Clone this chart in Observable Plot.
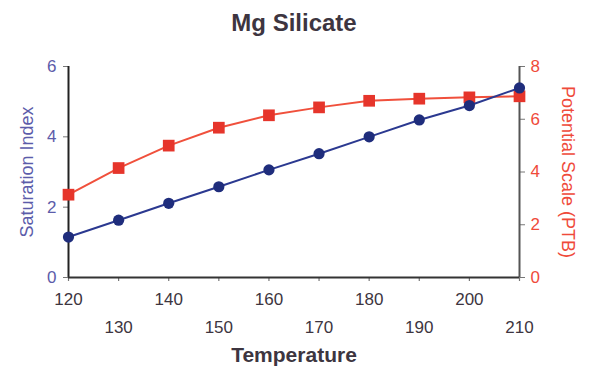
<!DOCTYPE html>
<html>
<head>
<meta charset="utf-8">
<script src="https://cdn.jsdelivr.net/npm/d3@7"></script>
<script src="https://cdn.jsdelivr.net/npm/@observablehq/plot@0.6"></script>
<style>
  html, body { margin: 0; padding: 0; background: #fff; }
  svg { display: block; }
</style>
</head>
<body>
<div id="chart"></div>
<script>
const temperature = [120, 130, 140, 150, 160, 170, 180, 190, 200, 210];
const saturationIndex = [1.15, 1.63, 2.11, 2.58, 3.06, 3.52, 4.0, 4.48, 4.89, 5.39];
const potentialScale = [3.14, 4.15, 5.0, 5.68, 6.15, 6.45, 6.7, 6.78, 6.83, 6.87];
const leftTicks = [0, 2, 4, 6];
const rightTicks = [0, 2, 4, 6, 8];
const xTicksRow1 = [120, 140, 160, 180, 200];
const xTicksRow2 = [130, 150, 170, 190, 210];
const leftMax = 6, rightMax = 8;

const toLeft = v => v * leftMax / rightMax;
const data = temperature.map((t, i) => ({t, si: saturationIndex[i], ps: potentialScale[i]}));

const dark = "#3d3540";
const blueLbl = "#5c5caa";
const redLbl = "#ef4a3a";
const font = "'Liberation Sans', Arial, sans-serif";

const chart = Plot.plot({
  width: 589,
  height: 377,
  marginLeft: 68,
  marginRight: 70,
  marginTop: 66,
  marginBottom: 100,
  style: {fontFamily: font, background: "#fff"},
  x: {domain: [120, 210], axis: null},
  y: {domain: [0, leftMax], axis: null},
  marks: [
    // tick marks
    Plot.axisX({ticks: temperature, tickSize: 4, tickFormat: () => "", label: null, stroke: "#777", strokeWidth: 1.2}),
    Plot.axisY({ticks: leftTicks, anchor: "left", tickSize: 5, tickFormat: () => "", label: null, stroke: "#777"}),
    Plot.axisY({ticks: rightTicks.map(toLeft), anchor: "right", tickSize: 5, tickFormat: () => "", label: null, stroke: "#777"}),
    // frame lines
    Plot.ruleX([120], {stroke: "#222", strokeWidth: 2}),
    Plot.ruleX([210], {stroke: "#555", strokeWidth: 2}),
    Plot.ruleY([0], {stroke: "#333", strokeWidth: 2}),
    // series
    Plot.line(data, {x: "t", y: d => toLeft(d.ps), stroke: "#f0503c", strokeWidth: 2}),
    Plot.dot(data, {x: "t", y: d => toLeft(d.ps), symbol: "square", r: 6.6, fill: "#e6352b"}),
    Plot.line(data, {x: "t", y: "si", stroke: "#2b3990", strokeWidth: 2}),
    Plot.dot(data, {x: "t", y: "si", r: 5.6, fill: "#1f2d7c"}),
    // x tick labels (staggered)
    Plot.text(xTicksRow1, {x: d => d, text: d => String(d), frameAnchor: "bottom", dy: 22, lineAnchor: "middle", fontSize: 17, fill: dark}),
    Plot.text(xTicksRow2, {x: d => d, text: d => String(d), frameAnchor: "bottom", dy: 50, lineAnchor: "middle", fontSize: 17, fill: dark}),
    // left tick labels
    Plot.text(leftTicks, {y: d => d, text: d => String(d), frameAnchor: "left", dx: -12, textAnchor: "end", lineAnchor: "middle", fontSize: 17, fill: blueLbl}),
    // right tick labels
    Plot.text(rightTicks, {y: d => toLeft(d), text: d => String(d), frameAnchor: "right", dx: 11, textAnchor: "start", lineAnchor: "middle", fontSize: 17, fill: redLbl}),
    // axis titles
    Plot.text(["Saturation Index"], {frameAnchor: "left", dx: -41, rotate: -90, textAnchor: "middle", fontSize: 18, fill: blueLbl, lineAnchor: "middle"}),
    Plot.text(["Potential Scale (PTB)"], {frameAnchor: "right", dx: 48, rotate: 90, textAnchor: "middle", fontSize: 18, fill: redLbl, lineAnchor: "middle"}),
    Plot.text(["Temperature"], {frameAnchor: "bottom", dy: 78, fontSize: 21, fontWeight: "bold", fill: dark, lineAnchor: "middle"}),
    Plot.text(["Mg Silicate"], {frameAnchor: "top", dy: -43, fontSize: 24, fontWeight: "bold", fill: dark, lineAnchor: "middle"})
  ]
});
document.getElementById("chart").appendChild(chart);
</script>
</body>
</html>
